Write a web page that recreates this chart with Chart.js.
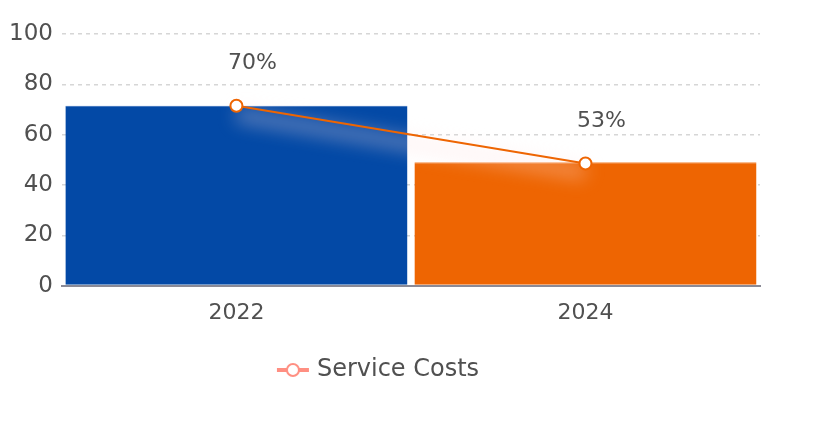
<!DOCTYPE html>
<html>
<head>
<meta charset="utf-8">
<script src="https://cdn.jsdelivr.net/npm/chart.js@4/dist/chart.umd.min.js"></script>
<style>
  html, body { margin: 0; padding: 0; background: #fff; }
  #wrap { width: 820px; height: 424px; }
</style>
</head>
<body>
<div id="wrap"><canvas id="myChart"></canvas></div>
<script>
const years = ["2022", "2024"];
const barValues = [71.5, 49];
const lineValues = [71.5, 48.5];
const pointLabels = ["70%", "53%"];
const yTicks = [0, 20, 40, 60, 80, 100];

const barColors = ["#0349a6", "#ee6502"];
const lineColor = "#ee6502";
const legendColor = "#ff8f82";
const textColor = "#505050";
const fontFamily = "'DejaVu Sans', sans-serif";

// legend marker: little line with a hollow circle
function makeLegendIcon() {
    const c = document.createElement("canvas");
    c.width = 34;
    c.height = 16;
    const g = c.getContext("2d");
    g.strokeStyle = legendColor;
    g.lineWidth = 4;
    g.beginPath();
    g.moveTo(1, 8);
    g.lineTo(33, 8);
    g.stroke();
    g.fillStyle = "#fff";
    g.lineWidth = 2;
    g.beginPath();
    g.arc(17, 8, 6, 0, Math.PI * 2);
    g.fill();
    g.stroke();
    return c;
}
const legendIcon = makeLegendIcon();

// soft pale glow just under the line
const lineGlow = {
    id: "lineGlow",
    beforeDatasetDraw(chart, args) {
        if (args.index !== 0) return;
        const pts = chart.getDatasetMeta(0).data;
        const c = chart.ctx;
        c.save();
        c.filter = "blur(9px)";
        c.strokeStyle = "rgba(255, 225, 225, 0.36)";
        c.lineWidth = 14;
        c.beginPath();
        pts.forEach((p, i) => {
            if (i === 0) c.moveTo(p.x, p.y + 9);
            else c.lineTo(p.x, p.y + 9);
        });
        c.stroke();
        c.restore();
    }
};

// percent labels above the points
const valueLabels = {
    id: "valueLabels",
    afterDatasetsDraw(chart) {
        const c = chart.ctx;
        const meta = chart.getDatasetMeta(0);
        c.save();
        c.font = "22px " + fontFamily;
        c.fillStyle = textColor;
        c.textAlign = "center";
        c.textBaseline = "middle";
        meta.data.forEach((pt, i) => {
            c.fillText(pointLabels[i], pt.x + 16, pt.y - 42);
        });
        c.restore();
    }
};

const ctx = document.getElementById("myChart").getContext("2d");
const myChart = new Chart(ctx, {
    type: "bar",
    data: {
        labels: years,
        datasets: [
            {
                type: "line",
                label: "Service Costs",
                data: lineValues,
                borderColor: lineColor,
                borderWidth: 2,
                pointRadius: 6,
                pointHoverRadius: 6,
                pointBackgroundColor: "#fff",
                pointBorderColor: lineColor,
                pointBorderWidth: 2,
                fill: false,
                order: 0
            },
            {
                label: "bars",
                data: barValues,
                backgroundColor: barColors,
                borderColor: ["#2a64b8", "#f5893a"],
                borderWidth: { top: 1, bottom: 1, left: 0, right: 0 },
                categoryPercentage: 1,
                barPercentage: 0.98,
                order: 1
            }
        ]
    },
    plugins: [lineGlow, valueLabels],
    options: {
        responsive: true,
        maintainAspectRatio: false,
        animation: false,
        layout: { padding: { top: 34, right: 60, bottom: 32, left: 0 } },
        plugins: {
            tooltip: { enabled: false },
            legend: {
                position: "bottom",
                labels: {
                    usePointStyle: true,
                    color: textColor,
                    font: { family: fontFamily, size: 24 },
                    padding: 26,
                    boxHeight: 16,
                    generateLabels() {
                        return [{
                            text: "Service Costs",
                            pointStyle: legendIcon,
                            fontColor: textColor,
                            hidden: false,
                            datasetIndex: 0
                        }];
                    }
                }
            }
        },
        scales: {
            x: {
                grid: { display: false },
                border: { display: true, color: "#8a8a96", width: 2 },
                ticks: {
                    color: textColor,
                    font: { family: fontFamily, size: 22 },
                    padding: 6
                }
            },
            y: {
                min: 0,
                max: 100,
                afterBuildTicks(axis) {
                    axis.ticks = yTicks.map(v => ({ value: v }));
                },
                grid: {
                    color: "#d6d6d6",
                    lineWidth: 1.5,
                    drawTicks: false
                },
                border: { display: false, dash: [4, 4] },
                ticks: {
                    color: textColor,
                    font: { family: fontFamily, size: 23 },
                    padding: 9
                }
            }
        }
    }
});
</script>
</body>
</html>
